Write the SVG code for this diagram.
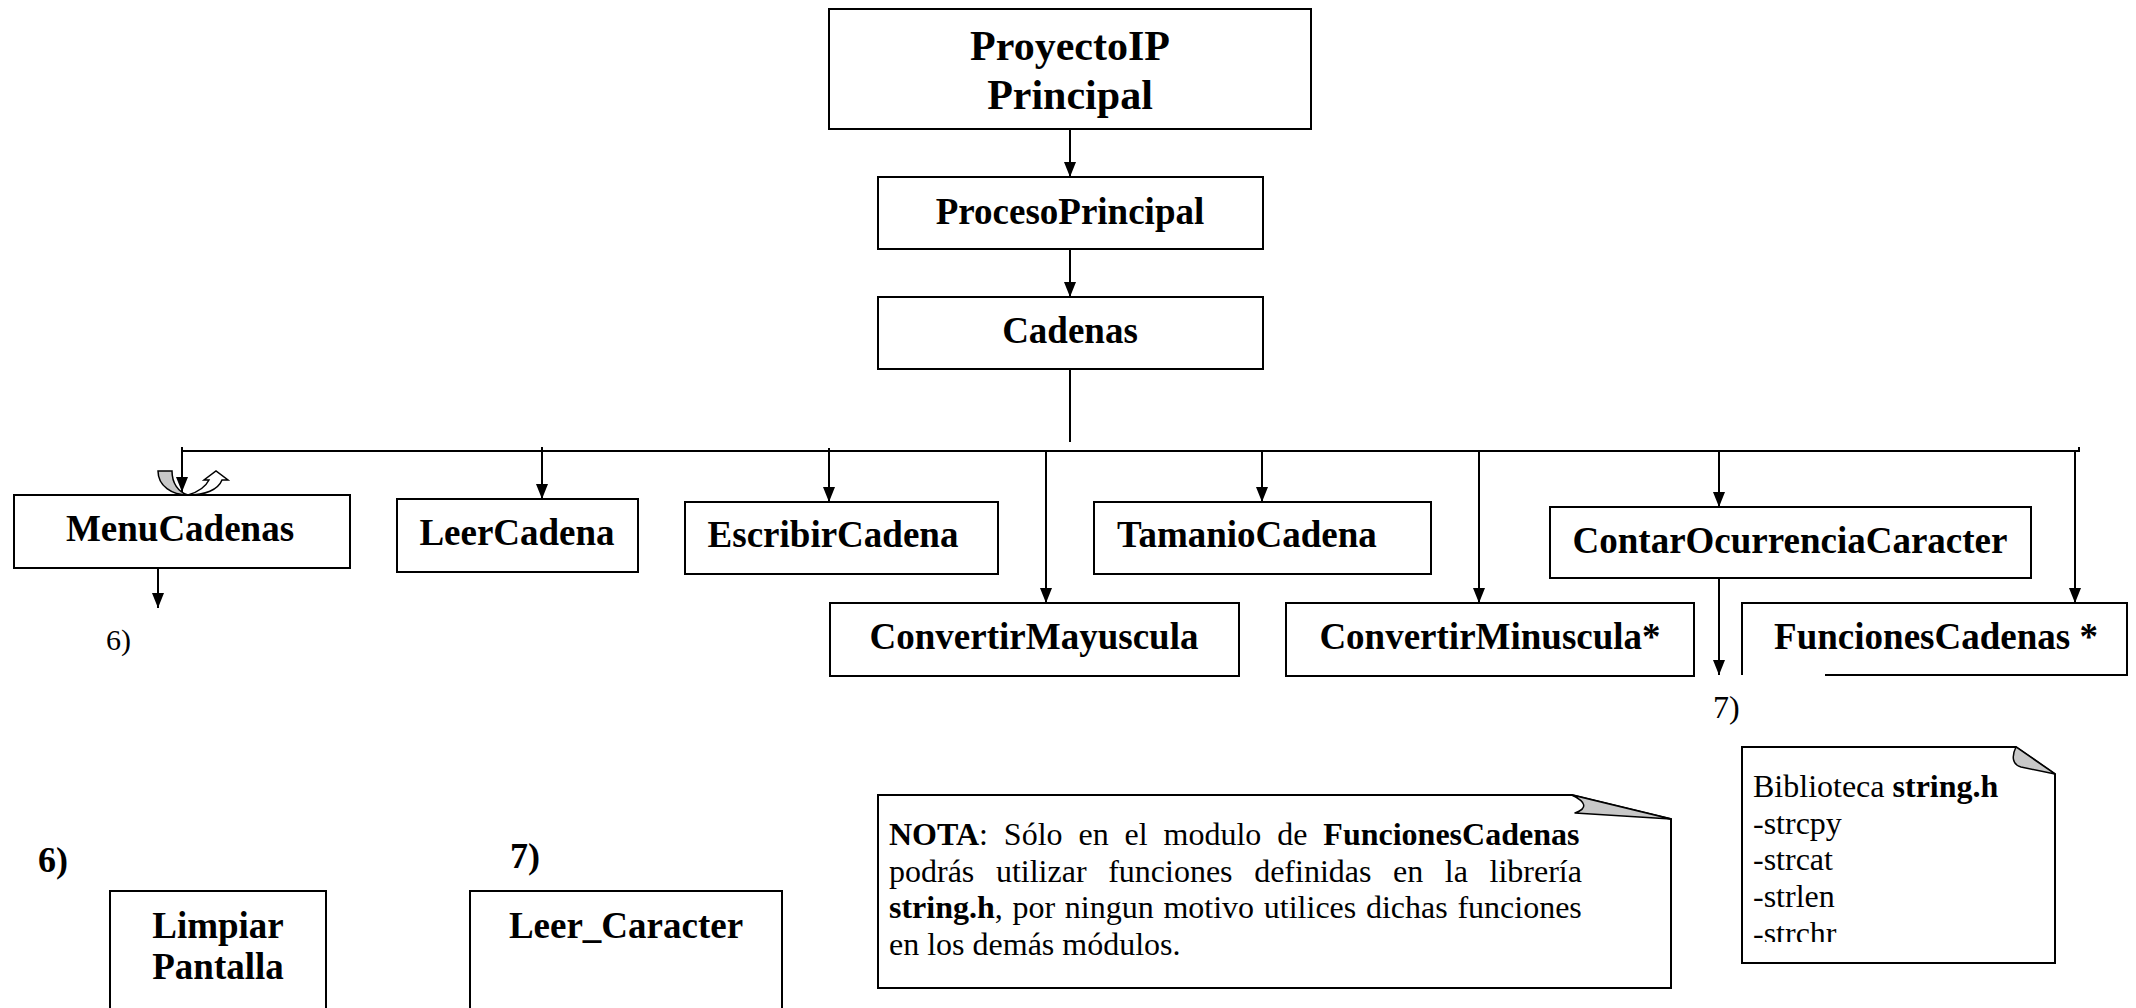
<svg xmlns="http://www.w3.org/2000/svg" width="2136" height="1008" viewBox="0 0 2136 1008">
<defs>
<style>
.box{fill:#fff;stroke:#000;stroke-width:2}
.t{font-family:"Liberation Serif","Times New Roman",serif;font-weight:bold;font-size:37px;text-anchor:middle;fill:#000}
.r{font-family:"Liberation Serif","Times New Roman",serif;font-size:32px;fill:#000}
.b{font-weight:bold}
.conn line{stroke:#000;stroke-width:2}
.fold{fill:#c8c8c8;stroke:#000;stroke-width:1.5;stroke-linejoin:round}
</style>
<marker id="ah" viewBox="0 0 15 12" refX="15" refY="6" markerWidth="15" markerHeight="12" markerUnits="userSpaceOnUse" orient="auto">
<path d="M0,0 L15,6 L0,12 z" fill="#000"/>
</marker>
<clipPath id="libclip"><rect x="1740" y="745" width="320" height="197"/></clipPath>
</defs>
<rect width="2136" height="1008" fill="#fff"/>

<g id="connectors" class="conn">
<line x1="1070" y1="129" x2="1070" y2="177" marker-end="url(#ah)"/>
<line x1="1070" y1="249" x2="1070" y2="297" marker-end="url(#ah)"/>
<line x1="1070" y1="369" x2="1070" y2="442"/>
<line x1="182" y1="451" x2="2079" y2="451"/>
<line x1="2079" y1="447" x2="2079" y2="452"/>
<line x1="182" y1="447" x2="182" y2="492" marker-end="url(#ah)"/>
<line x1="542" y1="447" x2="542" y2="499" marker-end="url(#ah)"/>
<line x1="829" y1="448" x2="829" y2="502" marker-end="url(#ah)"/>
<line x1="1046" y1="451" x2="1046" y2="603" marker-end="url(#ah)"/>
<line x1="1262" y1="451" x2="1262" y2="502" marker-end="url(#ah)"/>
<line x1="1479" y1="451" x2="1479" y2="603" marker-end="url(#ah)"/>
<line x1="1719" y1="451" x2="1719" y2="507" marker-end="url(#ah)"/>
<line x1="2075" y1="451" x2="2075" y2="603" marker-end="url(#ah)"/>
<line x1="158" y1="561" x2="158" y2="608" marker-end="url(#ah)"/>
<line x1="1719" y1="578" x2="1719" y2="675" marker-end="url(#ah)"/>
</g>

<g id="loop-arrows">
<path d="M158,471 L172,471 C172,483 178,492 188,495 C172,495 158,486 158,471 Z" fill="#c8c8c8" stroke="#000" stroke-width="1.5"/>
<path d="M188,495 C198,492 206,486 209,480 L204,480 L216,471 L228,480 L222,480 C218,490 205,495 188,495 Z" fill="#fff" stroke="#000" stroke-width="1.5"/>
</g>

<g id="n-proyecto">
<rect class="box" x="829" y="9" width="482" height="120"/>
<text class="t" x="1070" y="60" style="font-size:42px">ProyectoIP</text>
<text class="t" x="1070" y="109" style="font-size:42px">Principal</text>
</g>
<g id="n-proceso">
<rect class="box" x="878" y="177" width="385" height="72"/>
<text class="t" x="1070" y="224">ProcesoPrincipal</text>
</g>
<g id="n-cadenas">
<rect class="box" x="878" y="297" width="385" height="72"/>
<text class="t" x="1070" y="343">Cadenas</text>
</g>
<g id="n-menu">
<rect class="box" x="14" y="495" width="336" height="73"/>
<text class="t" x="180" y="541">MenuCadenas</text>
</g>
<g id="n-leer">
<rect class="box" x="397" y="499" width="241" height="73"/>
<text class="t" x="517" y="545">LeerCadena</text>
</g>
<g id="n-escribir">
<rect class="box" x="685" y="502" width="313" height="72"/>
<text class="t" x="833" y="547">EscribirCadena</text>
</g>
<g id="n-tamanio">
<rect class="box" x="1094" y="502" width="337" height="72"/>
<text class="t" x="1247" y="547">TamanioCadena</text>
</g>
<g id="n-mayus">
<rect class="box" x="830" y="603" width="409" height="73"/>
<text class="t" x="1034" y="649">ConvertirMayuscula</text>
</g>
<g id="n-minus">
<rect class="box" x="1286" y="603" width="408" height="73"/>
<text class="t" x="1490" y="649">ConvertirMinuscula*</text>
</g>
<g id="n-contar">
<rect class="box" x="1550" y="507" width="481" height="71"/>
<text class="t" x="1790" y="553">ContarOcurrenciaCaracter</text>
</g>
<g id="n-funciones">
<rect x="1742" y="603" width="385" height="72" fill="#fff"/>
<path d="M1825,675 L2127,675 L2127,603 L1742,603 L1742,675" fill="none" stroke="#000" stroke-width="2"/>
<text class="t" x="1936" y="649">FuncionesCadenas *</text>
</g>

<g id="lbl-6-small"><text class="r" x="106" y="650" style="font-size:30px">6)</text></g>
<g id="lbl-7-small"><text class="r" x="1713" y="718">7)</text></g>

<g id="note-string">
<path class="box" d="M1742,747 L2016,747 L2055,774 L2055,963 L1742,963 Z"/>
<path class="fold" d="M2016,747 C2011,757 2013,765 2021,767 L2055,774 Z"/>
<g clip-path="url(#libclip)">
<text class="r" x="1753" y="797">Biblioteca <tspan class="b">string.h</tspan></text>
<text class="r" x="1753" y="833.5">-strcpy</text>
<text class="r" x="1753" y="870">-strcat</text>
<text class="r" x="1753" y="906.5">-strlen</text>
<text class="r" x="1753" y="944">-strchr</text>
</g>
</g>

<g id="note-nota">
<path class="box" d="M878,795 L1572,795 L1671,819 L1671,988 L878,988 Z"/>
<path class="fold" d="M1572,795 Q1594,806 1575,813 L1671,819 Z"/>
<text class="r" x="889" y="845" style="word-spacing:7.9px"><tspan class="b">NOTA</tspan>: Sólo en el modulo de <tspan class="b">FuncionesCadenas</tspan></text>
<text class="r" x="889" y="881.5" style="word-spacing:13.6px">podrás utilizar funciones definidas en la librería</text>
<text class="r" x="889" y="918" style="word-spacing:1.7px"><tspan class="b">string.h</tspan>, por ningun motivo utilices dichas funciones</text>
<text class="r" x="889" y="954.5">en los demás módulos.</text>
</g>

<g id="lbl-6"><text class="r b" x="38" y="872" style="font-size:36px">6)</text></g>
<g id="lbl-7"><text class="r b" x="510" y="868" style="font-size:36px">7)</text></g>

<g id="n-limpiar">
<rect class="box" x="110" y="891" width="216" height="140"/>
<text class="t" x="218" y="938">Limpiar</text>
<text class="t" x="218" y="979">Pantalla</text>
</g>
<g id="n-leercaracter">
<rect class="box" x="470" y="891" width="312" height="140"/>
<text class="t" x="626" y="938">Leer_Caracter</text>
</g>
</svg>
